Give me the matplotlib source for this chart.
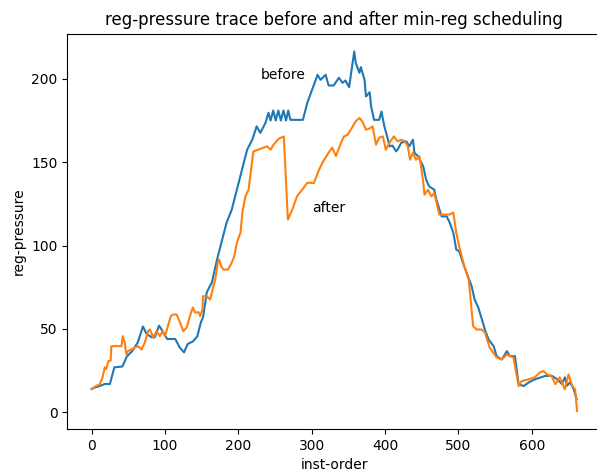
import numpy as np
import matplotlib
matplotlib.use("Agg")
import matplotlib.pyplot as plt

# (inst-order, reg-pressure)
before_pts = [
    (0, 14), (5, 15), (10, 15.6), (18, 17), (25, 17), (31, 27), (42, 27.5), (48, 33.5),
    (55, 36.5), (63, 42), (70, 51.5), (75, 47), (82, 45), (86, 45), (92, 52), (97, 48.5),
    (103, 44), (114, 44), (120, 39), (126, 36), (131, 41), (138, 42.5), (144, 45.5),
    (149, 54), (152, 57), (157, 72), (164, 78), (171, 91.6), (178, 103.6), (184, 113.8),
    (191, 121.5), (198, 133.5), (205, 145.5), (212, 157.5), (219, 163.5), (225, 171.5),
    (230, 167.6), (237, 173.6), (241, 179.6), (244, 175), (247.5, 181), (251, 175),
    (254.5, 181), (258, 175), (261.5, 181), (265, 175), (268, 181), (271, 175.4),
    (288, 175.4), (294, 185.6), (299, 191.6), (308, 202.4), (312, 199.4), (319, 202.4),
    (323, 196), (330, 196), (337, 200.6), (342, 197.6), (346, 199), (351, 195),
    (356, 210.4), (358, 216.4), (360, 209.6), (365, 203.6), (367, 207), (372, 199.4),
    (374, 189.4), (379, 192), (381, 183.4), (385, 175.4), (392, 175.4), (395, 180.4),
    (399, 171.5), (404, 163.5), (406, 159.5), (410, 160), (415, 156.5), (417, 157.5),
    (422, 161.7), (429, 162.5), (433, 159.5), (438, 163.5), (440, 155.7), (445, 153.5),
    (452, 147.5), (456, 139.5), (460, 135.5), (467, 133.5), (470, 127.5), (477, 117.5),
    (484, 117.5), (488, 113.8), (493, 107.8), (497, 97.6), (501, 96.6), (506, 89.8),
    (511, 83.8), (518, 75.6), (522, 67.7), (527, 62.9), (532, 55.7), (536, 49.7),
    (541, 43.7), (548, 39.7), (552, 33.7), (559, 31.7), (566, 36.7), (570, 33.7),
    (577, 33.7), (582, 16.8), (589, 15.8), (596, 18), (604, 19.8), (618, 21.8),
    (627, 22), (634, 20), (641, 17), (645, 21), (648, 16), (652, 18), (657, 14), (661, 8),
]

after_pts = [
    (0, 14), (6, 15.8), (11, 16.8), (15, 21), (18, 27), (20, 26), (23, 30.7), (26, 31),
    (27, 39.7), (40.7, 39.7), (42.5, 45.7), (45, 42), (47.5, 34.7), (49.6, 36.7),
    (54, 37.7), (59, 38.9), (63.5, 39.7), (68, 37.7), (72.6, 41.9), (75, 45.7),
    (77, 48.7), (79.5, 49.7), (84, 44.9), (88.6, 48.7), (93, 45.7), (97, 48.7),
    (100, 45.7), (104, 51.7), (108, 57.7), (111, 58.7), (116, 58.7), (120.5, 53.9),
    (125, 48.7), (129.7, 50.9), (134, 57.7), (138, 62.9), (141, 59.9), (146, 60),
    (148, 57.7), (151, 61.7), (152, 69.7), (157, 69.5), (161.6, 67.7), (166, 75.6),
    (168.5, 79.6), (172, 89.8), (174, 91.6), (176.7, 87.6), (179.5, 85.6), (186, 85.6),
    (191, 89.8), (194.5, 93.6), (198, 101.8), (203, 107.8), (205.5, 119.8),
    (209.6, 129.5), (214, 133.5), (218, 147.5), (220.5, 156.5), (227, 157.5),
    (234, 158.7), (239, 159.5), (244, 157.5), (248, 160.5), (255, 164), (262, 165.5),
    (267.5, 115.6), (273.5, 121.5), (280, 129.6), (287, 133.5), (294, 137.7),
    (303, 137.5), (310, 145.5), (314.6, 149.7), (323, 155.7), (328, 158.7),
    (333, 153.7), (340, 161.7), (344, 165.5), (349, 166.5), (356, 171.5), (360, 174.5),
    (365, 176.5), (369, 174.5), (374, 169.5), (378, 170), (383, 171.5), (387.7, 160.5),
    (392, 164.7), (397, 165.5), (401, 157.5), (406, 161.7), (412, 165.5), (417, 162.5),
    (422, 163.5), (427, 162.5), (431, 159.5), (434, 151.5), (438, 155.7), (442, 151.5),
    (447, 153.5), (451.6, 139.5), (453.7, 130.5), (458.5, 133.5), (463, 129.5),
    (467, 131.5), (474, 118.6), (488, 118.6), (493, 119.8), (497, 107.8), (501, 99.6),
    (508, 87.6), (514, 79.6), (520, 51.7), (524.7, 49.7), (531.5, 49.7), (536, 47.9),
    (542.5, 38.9), (552, 32.9), (559, 31.7), (566, 34.7), (575, 32.9), (582, 15.8),
    (586, 18.7), (595.5, 19.8), (604, 21), (611, 24), (616, 24.8), (620.5, 22.8),
    (627, 21.8), (632, 16.8), (638, 21), (645, 13.8), (650, 22.8), (655, 15.8),
    (659, 13.8), (661.6, 0.8),
]

title = "reg-pressure trace before and after min-reg scheduling"
xlabel = "inst-order"
ylabel = "reg-pressure"

bx, by = np.array(before_pts).T
ax_, ay = np.array(after_pts).T

fig = plt.figure(figsize=(5.97, 4.75), dpi=100)
ax = fig.add_axes([67.3 / 597, 46 / 475, 534 / 597, 395.5 / 475])
ax.plot(bx, by, color="C0")
ax.plot(ax_, ay, color="C1")
ax.text(230, 200, "before")
ax.text(300, 120, "after")
ax.set_title(title)
ax.set_xlabel(xlabel)
ax.set_ylabel(ylabel)
fig.savefig("out.png", dpi=100)
